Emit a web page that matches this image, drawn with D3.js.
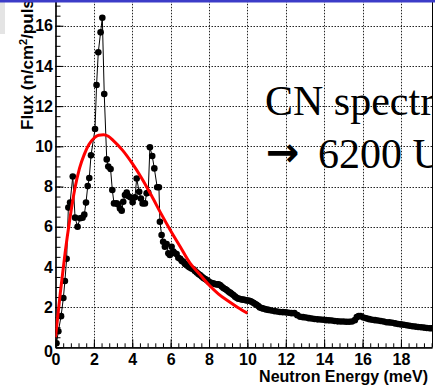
<!DOCTYPE html>
<html>
<head>
<meta charset="utf-8">
<script src="https://d3js.org/d3.v7.min.js"></script>
<style>
  html, body { margin: 0; padding: 0; background: #fff; }
  svg { display: block; }
</style>
</head>
<body>
<svg id="chart" width="435" height="386"></svg>
<script>
const energy = [
  0.05, 0.15, 0.29, 0.41, 0.49, 0.58, 0.67, 0.76, 0.9, 1.02,
  1.15, 1.28, 1.41, 1.5, 1.59, 1.68, 1.76, 1.85, 2.06, 2.14,
  2.23, 2.35, 2.44, 2.54, 2.67, 2.75, 2.87, 2.96, 3.05, 3.19,
  3.27, 3.36, 3.45, 3.53, 3.62, 3.71, 3.79, 3.9, 4.02, 4.14,
  4.23, 4.36, 4.45, 4.54, 4.66, 4.75, 4.83, 4.92, 5.04, 5.15,
  5.3, 5.39, 5.44, 5.53, 5.61, 5.7, 5.79, 5.88, 5.96, 6.05,
  6.14, 6.22, 6.31, 6.4, 6.5, 6.58, 6.66, 6.75, 6.83, 6.92,
  7.0, 7.09, 7.18, 7.27, 7.36, 7.45, 7.53, 7.62, 7.71, 7.8,
  7.88, 7.97, 8.06, 8.15, 8.24, 8.31, 8.4, 8.49, 8.57, 8.66,
  8.75, 8.84, 8.92, 9.01, 9.1, 9.18, 9.27, 9.36, 9.44, 9.53,
  9.62, 9.7, 9.79, 9.88, 9.96, 10.05, 10.14, 10.22, 10.31, 10.39,
  10.48, 10.57, 10.65, 10.74, 10.82, 10.91, 11.0, 11.1, 11.25, 11.4,
  11.55, 11.7, 11.85, 12.0, 12.15, 12.3, 12.45, 12.6, 12.75, 12.9,
  13.05, 13.2, 13.35, 13.5, 13.65, 13.8, 13.95, 14.1, 14.25, 14.4,
  14.55, 14.7, 14.85, 15.0, 15.15, 15.3, 15.45, 15.6, 15.7, 15.8,
  15.9, 16.05, 16.2, 16.35, 16.5, 16.65, 16.8, 16.95, 17.1, 17.25,
  17.4, 17.55, 17.7, 17.85, 18.0, 18.15, 18.3, 18.45, 18.6, 18.75,
  18.9, 19.05, 19.2, 19.35, 19.5, 19.6
];
const flux = [
  0.2, 0.8, 1.55, 2.45, 3.3, 4.4, 6.95, 7.2, 8.5, 6.45,
  6.0, 6.42, 6.45, 6.6, 7.2, 8.02, 8.42, 9.55, 10.86, 13.05,
  14.68, 15.67, 16.4, 12.6, 9.35, 8.99, 8.87, 7.83, 7.16, 7.16,
  7.1, 6.9, 6.8, 7.24, 7.58, 7.7, 7.53, 7.46, 7.22, 7.46,
  8.4, 7.74, 7.4, 7.16, 7.16, 7.66, 7.7, 9.95, 9.52, 8.9,
  7.96, 7.96, 6.25, 5.59, 5.25, 5.0, 5.14, 4.68, 4.59, 5.0,
  4.76, 4.68, 4.64, 4.45, 4.4, 4.3, 4.26, 4.15, 4.09, 4.02,
  3.97, 3.92, 3.88, 3.8, 3.72, 3.65, 3.6, 3.52, 3.45, 3.4,
  3.35, 3.28, 3.22, 3.2, 3.17, 3.15, 3.13, 3.13, 3.1, 3.02,
  2.95, 2.9, 2.85, 2.78, 2.72, 2.66, 2.6, 2.52, 2.46, 2.42,
  2.4, 2.38, 2.37, 2.35, 2.33, 2.33, 2.3, 2.27, 2.22, 2.17,
  2.12, 2.05, 1.98, 1.95, 1.93, 1.9, 1.88, 1.86, 1.83, 1.8,
  1.78, 1.76, 1.75, 1.74, 1.72, 1.7, 1.7, 1.6, 1.52, 1.5,
  1.48, 1.45, 1.43, 1.41, 1.39, 1.38, 1.37, 1.35, 1.34, 1.33,
  1.31, 1.29, 1.28, 1.28, 1.27, 1.27, 1.28, 1.35, 1.5, 1.56,
  1.55, 1.48, 1.44, 1.4, 1.37, 1.35, 1.33, 1.31, 1.28, 1.25,
  1.24, 1.22, 1.19, 1.16, 1.14, 1.12, 1.1, 1.07, 1.05, 1.03,
  1.01, 1.0, 0.98, 0.96, 0.95, 0.95
];

// red fit curve
const fitEnergy = [0, 0.25, 0.5, 0.75, 1, 1.25, 1.5, 1.75, 2, 2.25, 2.5, 2.75, 3, 3.5, 4, 4.5, 5, 5.5, 6, 6.5, 7, 7.5, 8, 8.5, 9, 9.5, 10];
const fitFlux = [0.5, 2.7, 4.7, 6.4, 7.85, 8.9, 9.6, 10.1, 10.4, 10.55, 10.57, 10.5, 10.3, 9.8, 9.15, 8.4, 7.55, 6.65, 5.8, 5.0, 4.2, 3.65, 3.1, 2.65, 2.3, 1.98, 1.7];

const xTicks = [0, 2, 4, 6, 8, 10, 12, 14, 16, 18];
const yTicks = [0, 2, 4, 6, 8, 10, 12, 14, 16];
const xTitle = 'Neutron Energy (meV)';
const noteLine1 = 'CN spectrum';
const noteArrow = '\u2192';
const noteLine2 = '6200 U';

const svg = d3.select('#chart');
const W = 435, H = 386;
const padL = 55.5, padR = 432, padB = 347.3, padT = 0;

const x = d3.scaleLinear().domain([0, 19.62]).range([padL, padR]);
const y = d3.scaleLinear().domain([0, 17.28]).range([padB, padT]);

svg.append('rect').attr('width', W).attr('height', H).attr('fill', '#fff');

// slide leftovers: grey strip on the left
svg.append('rect').attr('x', 0).attr('y', 0).attr('width', 5).attr('height', 34).attr('fill', '#e4e4e4');

svg.append('defs').append('clipPath').attr('id', 'plot')
  .append('rect').attr('x', padL).attr('y', 0).attr('width', padR - padL).attr('height', padB + 4);

// grid
const grid = svg.append('g')
  .attr('stroke', '#000').attr('stroke-width', 1).attr('stroke-dasharray', '1.5,1.5').attr('opacity', 0.85);
grid.selectAll('.vg').data(xTicks.filter(d => d > 0)).join('line')
  .attr('x1', d => Math.round(x(d)) + 0.5).attr('x2', d => Math.round(x(d)) + 0.5)
  .attr('y1', padB).attr('y2', padT);
grid.selectAll('.hg').data(yTicks.filter(d => d > 0)).join('line')
  .attr('y1', d => Math.round(y(d)) + 0.5).attr('y2', d => Math.round(y(d)) + 0.5)
  .attr('x1', padL).attr('x2', padR);

// note text (runs off the right edge, as in the slide)
const note = svg.append('g').attr('clip-path', 'url(#plot)')
  .attr('font-family', '"Liberation Serif", "Times New Roman", serif')
  .attr('font-size', 42).attr('fill', '#000');
note.append('text').attr('x', 265).attr('y', 115).text(noteLine1);
const l2 = note.append('text').attr('x', 266).attr('y', 168);
l2.append('tspan')
  .attr('font-family', '"DejaVu Sans", sans-serif').attr('font-weight', 'bold').attr('font-size', 40)
  .attr('dy', -2).text(noteArrow);
l2.append('tspan').attr('x', 318).attr('dy', 2).text(noteLine2);

// axes
const minorX = d3.range(0, 19.62, 0.4);
const minorY = d3.range(0, 17.2, 0.5);

const xMinor = svg.append('g').attr('transform', `translate(0,${padB})`)
  .call(d3.axisBottom(x).tickValues(minorX).tickSizeInner(-4).tickSizeOuter(0).tickFormat(''));
const xAxis = svg.append('g').attr('transform', `translate(0,${padB})`)
  .call(d3.axisBottom(x).tickValues(xTicks).tickSizeInner(-8).tickSizeOuter(0).tickPadding(6));
const yMinor = svg.append('g').attr('transform', `translate(${padL},0)`)
  .call(d3.axisLeft(y).tickValues(minorY).tickSizeInner(-5).tickSizeOuter(0).tickFormat(''));
const yAxis = svg.append('g').attr('transform', `translate(${padL},0)`)
  .call(d3.axisLeft(y).tickValues(yTicks).tickSizeInner(-8).tickSizeOuter(0).tickPadding(2.5));

[xMinor, xAxis, yMinor, yAxis].forEach(g => {
  g.selectAll('path.domain').attr('stroke', '#000').attr('stroke-width', 1.2);
  g.selectAll('line').attr('stroke', '#000').attr('stroke-width', 1);
  g.selectAll('text')
    .attr('font-family', '"Liberation Sans", Arial, Helvetica, sans-serif')
    .attr('font-weight', 'bold').attr('font-size', 16).attr('fill', '#000');
});
yAxis.selectAll('text').filter(d => d === 0).attr('dy', '0.6em');

// right frame
svg.append('line').attr('x1', padR + 0.5).attr('x2', padR + 0.5).attr('y1', padT).attr('y2', padB)
  .attr('stroke', '#000').attr('stroke-width', 1);

// data
const pts = energy.map((e, i) => [e, flux[i]]);
const plot = svg.append('g').attr('clip-path', 'url(#plot)');
plot.append('path').datum(pts)
  .attr('fill', 'none').attr('stroke', '#000').attr('stroke-width', 1)
  .attr('d', d3.line().x(d => x(d[0])).y(d => y(d[1])));
plot.selectAll('circle').data(pts).join('circle')
  .attr('cx', d => x(d[0])).attr('cy', d => y(d[1])).attr('r', 3.3).attr('fill', '#000');

const fit = fitEnergy.map((e, i) => [e, fitFlux[i]]);
plot.append('path').datum(fit)
  .attr('fill', 'none').attr('stroke', '#ff0000').attr('stroke-width', 3)
  .attr('d', d3.line().x(d => x(d[0])).y(d => y(d[1])).curve(d3.curveMonotoneX));

// titles
svg.append('text')
  .attr('x', 428).attr('y', 382).attr('text-anchor', 'end')
  .attr('font-family', '"Liberation Sans", Arial, Helvetica, sans-serif')
  .attr('font-weight', 'bold').attr('font-size', 16)
  .text(xTitle);

const yt = svg.append('text')
  .attr('transform', 'translate(33,130) rotate(-90)')
  .attr('font-family', '"Liberation Sans", Arial, Helvetica, sans-serif')
  .attr('font-weight', 'bold').attr('font-size', 17);
yt.append('tspan').text('Flux (n/cm');
yt.append('tspan').attr('font-size', 11).attr('dy', -6).text('2');
yt.append('tspan').attr('dy', 6).text('/pulse)');

// blue bar along the top edge
svg.append('rect').attr('x', 0).attr('y', 0).attr('width', W).attr('height', 2.5).attr('fill', '#3c3cc8');
</script>
</body>
</html>
